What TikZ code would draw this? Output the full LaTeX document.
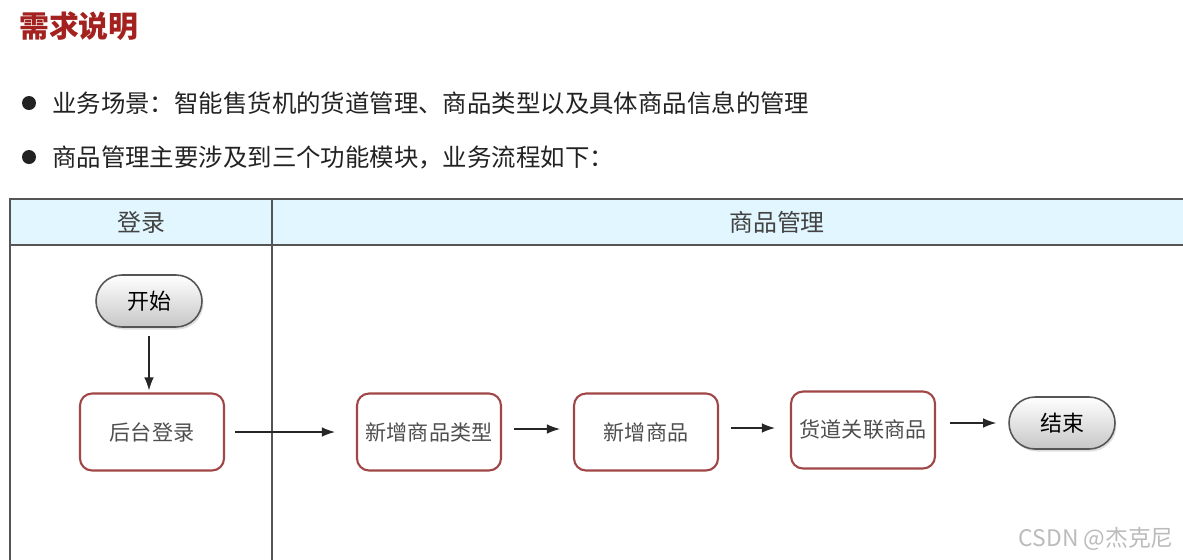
\documentclass[tikz,border=0pt]{standalone}
\usepackage{fontspec}
\setmainfont{Noto Sans CJK SC}
\usepackage{tikz}
\usetikzlibrary{arrows.meta,shapes.misc,shadows}
\definecolor{req-title}{HTML}{A3211F}
\definecolor{req-text}{HTML}{222222}
\definecolor{lane-head}{HTML}{E1F6FE}
\definecolor{lane-line}{HTML}{555555}
\definecolor{step-red}{HTML}{A14646}
\definecolor{mark-gray}{HTML}{BBBBBB}

\tikzset{
  stepbox/.style={draw=step-red, line width=1.2pt, rounded corners=0.24cm, fill=white,
    minimum width=2.88cm, minimum height=1.54cm, inner sep=0pt,
    text=req-text!80, font=\fontsize{12}{14}\selectfont},
  terminal/.style={rounded rectangle, draw=lane-line, line width=0.9pt,
    top color=white, bottom color=black!22, drop shadow={opacity=0.25, shadow xshift=0.03cm, shadow yshift=-0.05cm},
    minimum width=2.12cm, minimum height=1.04cm, inner sep=0pt,
    text=black, font=\fontsize{12.5}{14}\selectfont},
  flow/.style={-{Latex[length=2.6mm,width=1.9mm]}, line width=0.7pt, black!85},
}

\begin{document}
\begin{tikzpicture}[x=0.02cm, y=-0.02cm]
    \useasboundingbox (0,0) rectangle (1183,559);
    \clip (0,0) rectangle (1183,559);
    % Title and bullets
    \node[anchor=west, text=req-title, font=\fontsize{17}{20}\selectfont\bfseries] (title) at (13,26) {需求说明};
    \fill[req-text] (29,103) circle (7);
    \fill[req-text] (29,157) circle (7);
    \node[anchor=west, text=req-text, font=\fontsize{13.9}{16}\selectfont] (scene) at (46,103) {业务场景：智能售货机的货道管理、商品类型以及具体商品信息的管理};
    \node[anchor=west, text=req-text, font=\fontsize{13.9}{16}\selectfont] (modules) at (46,157) {商品管理主要涉及到三个功能模块，业务流程如下：};
    % Swimlanes
    \fill[lane-head] (10,199) rectangle (1200,245);
    \draw[lane-line, line width=1.1pt] (10,600) -- (10,199) -- (1200,199);
    \draw[lane-line, line width=1.1pt] (10,245) -- (1200,245);
    \draw[lane-line, line width=1.1pt] (272,199) -- (272,600);
    \node[text=req-text!85, font=\fontsize{13.6}{16}\selectfont] (lane1) at (141,222) {登录};
    \node[text=req-text!85, font=\fontsize{13.6}{16}\selectfont] (lane2) at (777,222) {商品管理};
    % Steps
    \node[terminal] (start) at (149,301) {开始};
    \node[stepbox] (login) at (152,432) {后台登录};
    \node[stepbox] (newtype) at (429,432) {新增商品类型};
    \node[stepbox] (newgoods) at (646,432) {新增商品};
    \node[stepbox] (link) at (863,430) {货道关联商品};
    \node[terminal] (end) at (1062,423) {结束};
    % Flow
    \draw[flow, shorten <=0.16cm, shorten >=0.04cm] (start.south) -- (start.south |- login.north);
    \draw[flow, shorten <=0.2cm, shorten >=0.42cm] (login) -- (newtype);
    \draw[flow, shorten <=0.24cm, shorten >=0.26cm] (newtype.east |- 0,429) -- (newgoods.west |- 0,429);
    \draw[flow, shorten <=0.24cm, shorten >=0.3cm] (newgoods.east |- 0,428) -- (link.west |- 0,428);
    \draw[flow, shorten <=0.28cm, shorten >=0.24cm] (link.east |- end.west) -- (end.west);
    % Watermark
    \node[anchor=east, text=mark-gray, font=\fontsize{13}{15}\selectfont] (mark) at (1180,539) {CSDN @杰克尼};
\end{tikzpicture}
\end{document}
